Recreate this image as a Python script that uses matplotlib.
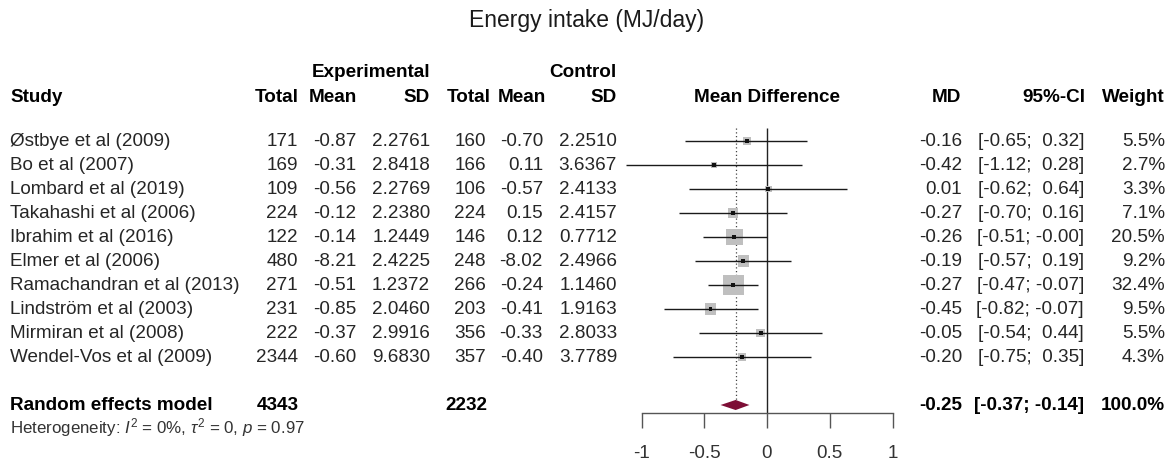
import numpy as np
import matplotlib
matplotlib.use('Agg')
import matplotlib.pyplot as plt
from matplotlib import transforms as mtrans

plt.rcParams['font.family'] = ['Liberation Sans', 'DejaVu Sans']
plt.rcParams['axes.unicode_minus'] = False
plt.rcParams['mathtext.fontset'] = 'custom'
plt.rcParams['mathtext.rm'] = 'Liberation Sans'
plt.rcParams['mathtext.it'] = 'Liberation Sans:italic'

# ---------------- data ----------------
title = "Energy intake (MJ/day)"
studies = ["Østbye et al (2009)", "Bo et al (2007)", "Lombard et al (2019)",
           "Takahashi et al (2006)", "Ibrahim et al (2016)", "Elmer et al (2006)",
           "Ramachandran et al (2013)", "Lindström et al (2003)",
           "Mirmiran et al (2008)", "Wendel-Vos et al (2009)"]
exp_total = [171, 169, 109, 224, 122, 480, 271, 231, 222, 2344]
exp_mean = [-0.87, -0.31, -0.56, -0.12, -0.14, -8.21, -0.51, -0.85, -0.37, -0.60]
exp_sd = [2.2761, 2.8418, 2.2769, 2.2380, 1.2449, 2.4225, 1.2372, 2.0460, 2.9916, 9.6830]
ctrl_total = [160, 166, 106, 224, 146, 248, 266, 203, 356, 357]
ctrl_mean = [-0.70, 0.11, -0.57, 0.15, 0.12, -8.02, -0.24, -0.41, -0.33, -0.40]
ctrl_sd = [2.2510, 3.6367, 2.4133, 2.4157, 0.7712, 2.4966, 1.1460, 1.9163, 2.8033, 3.7789]
md = [-0.16, -0.42, 0.01, -0.27, -0.26, -0.19, -0.27, -0.45, -0.05, -0.20]
ci_low = [-0.65, -1.12, -0.62, -0.70, -0.51, -0.57, -0.47, -0.82, -0.54, -0.75]
ci_high = [0.32, 0.28, 0.64, 0.16, -0.0, 0.19, -0.07, -0.07, 0.44, 0.35]
weight = [5.5, 2.7, 3.3, 7.1, 20.5, 9.2, 32.4, 9.5, 5.5, 4.3]

re_label = "Random effects model"
re_exp_total = 4343
re_ctrl_total = 2232
re_md = -0.25
re_low = -0.37
re_high = -0.14
re_weight = 100.0
het_text = r"Heterogeneity: $I^2$ = 0%, $\tau^2$ = 0, $p$ = 0.97"

xticks = [-1, -0.5, 0, 0.5, 1]
xtick_labels = ["-1", "-0.5", "0", "0.5", "1"]

# ---------------- layout ----------------
W, H = 1173, 470
fig = plt.figure(figsize=(W / 100, H / 100), dpi=100)
px0, ppu = 767, 125.5
xlim = (-1.25, 1.25)
left_px = px0 + xlim[0] * ppu
ax = fig.add_axes([left_px / W, 0, (xlim[1] - xlim[0]) * ppu / W, 1])
row0_px, row_px = 141, 24.0
ax.set_xlim(*xlim)
ax.set_ylim((H - row0_px) / row_px, (0 - row0_px) / row_px)
ax.patch.set_alpha(0)

rows = np.arange(len(studies))
re_y = 11.0
het_y = 11.96
head_y = -1.83
group_y = -2.875
axis_y = 11.33
top_line = -0.54

FS = 13.6
body_col = '#262626'

# forest marks
ax.vlines(0, top_line, axis_y, color='#222222', lw=1.0, zorder=1)
ax.vlines(re_md, top_line, re_y - 0.21, color='#444444', lw=0.9,
          linestyles=(0, (1, 2)), zorder=1)
ax.scatter(md, rows, s=[7.04 * w for w in weight], marker='s',
           color='#bfbfbf', edgecolors='none', zorder=2)
ax.hlines(rows, ci_low, ci_high, color='#1a1a1a', lw=1.0, zorder=3)
ax.scatter(md, rows, s=8, marker='s', color='#111111', edgecolors='none', zorder=4)
ax.fill([re_low, re_md, re_high, re_md], [re_y, re_y - 0.21, re_y, re_y + 0.21],
        color='#7d0e35', zorder=5, lw=0)

# axis
for s in ['top', 'left', 'right']:
    ax.spines[s].set_visible(False)
ax.spines['bottom'].set_position(('data', axis_y))
ax.spines['bottom'].set_bounds(-1, 1)
ax.spines['bottom'].set_color('#555555')
ax.spines['bottom'].set_linewidth(1.0)
ax.set_yticks([])
ax.set_xticks(xticks)
ax.set_xticklabels(xtick_labels)
ax.tick_params(axis='x', direction='out', length=10.8, width=1.0, color='#555555',
               pad=12, labelsize=FS, labelcolor='#333333')

# text table
tr = mtrans.blended_transform_factory(fig.transFigure, ax.transData)

def T(xpx, y, s, ha='right', bold=False, size=FS, color=None):
    ax.text(xpx / W, y, s, transform=tr, ha=ha, va='center', fontsize=size,
            fontweight='bold' if bold else 'normal',
            color=color if color else ('black' if bold else body_col))

fig.text(0.5, 1 - 21 / H, title, ha='center', va='center', fontsize=16.5, color='#1a1a1a')

T(430, group_y, "Experimental", bold=True)
T(617, group_y, "Control", bold=True)
T(10, head_y, "Study", ha='left', bold=True)
T(299, head_y, "Total", bold=True)
T(357, head_y, "Mean", bold=True)
T(430, head_y, "SD", bold=True)
T(491, head_y, "Total", bold=True)
T(546, head_y, "Mean", bold=True)
T(617, head_y, "SD", bold=True)
ax.text(0, head_y, "Mean Difference", ha='center', va='center', fontsize=FS,
        fontweight='bold', color='black')
T(961, head_y, "MD", bold=True)
T(1085, head_y, "95%-CI", bold=True)
T(1165, head_y, "Weight", bold=True)

def ci_str(lo, hi):
    hs = f"{hi:.2f}"
    if not hs.startswith('-'):
        hs = ' ' + hs
    return f"[{lo:.2f}; {hs}]"

for i in rows:
    T(10, i, studies[i], ha='left')
    T(298, i, f"{exp_total[i]}")
    T(356, i, f"{exp_mean[i]:.2f}")
    T(430, i, f"{exp_sd[i]:.4f}")
    T(486, i, f"{ctrl_total[i]}")
    T(543, i, f"{ctrl_mean[i]:.2f}")
    T(617, i, f"{ctrl_sd[i]:.4f}")
    T(962, i, f"{md[i]:.2f}")
    T(1084, i, ci_str(ci_low[i], ci_high[i]))
    T(1165, i, f"{weight[i]:.1f}%")

T(10, re_y, re_label, ha='left', bold=True)
T(299, re_y, f"{re_exp_total}", bold=True)
T(487, re_y, f"{re_ctrl_total}", bold=True)
T(962, re_y, f"{re_md:.2f}", bold=True)
T(1084, re_y, ci_str(re_low, re_high), bold=True)
T(1165, re_y, f"{re_weight:.1f}%", bold=True)
T(10, het_y, het_text, ha='left', size=12.2, color='#333333')

fig.savefig('out.png', dpi=100)
